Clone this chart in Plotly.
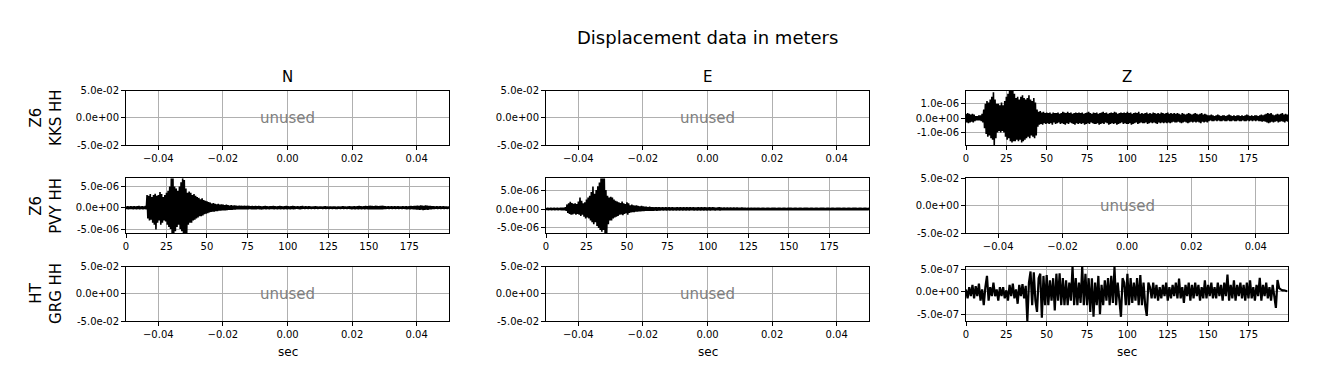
import numpy as np
import plotly.graph_objects as go

# ---------------- data ----------------
suptitle = "Displacement data in meters"
col_titles = ["N", "E", "Z"]
row_labels = ["Z6<br>KKS HH", "Z6<br>PVY HH", "HT<br>GRG HH"]
unused_label = "unused"
x_label = "sec"

# sample times (s) for each trace
times = np.arange(200.0)

# Z6 KKS HH, Z component: upper / lower envelope (x1e-6 m) per second
kks_z_up = [0.30,0.35,0.30,0.25,0.30,0.25,0.15,0.15,0.20,0.20,
            0.30,0.60,1.00,1.20,1.10,1.30,1.50,1.80,1.30,1.00,
            1.00,0.90,1.10,0.90,1.20,1.50,1.70,1.93,1.93,1.93,
            1.70,1.40,1.50,1.30,1.50,1.60,1.40,1.30,1.40,1.60,
            1.30,1.20,1.40,1.10,0.60,0.45,0.50,0.40,0.45,0.35,
            0.40,0.35,0.40,0.30,0.40,0.35,0.35,0.40,0.30,0.35,
            0.45,0.40,0.35,0.45,0.35,0.40,0.30,0.35,0.40,0.35,
            0.40,0.35,0.40,0.30,0.35,0.40,0.45,0.35,0.30,0.40,
            0.35,0.40,0.30,0.35,0.40,0.45,0.35,0.40,0.30,0.35,
            0.40,0.35,0.45,0.40,0.30,0.35,0.40,0.35,0.40,0.35,
            0.45,0.35,0.40,0.30,0.35,0.40,0.35,0.45,0.30,0.35,
            0.30,0.35,0.40,0.30,0.35,0.30,0.40,0.35,0.30,0.35,
            0.30,0.40,0.35,0.30,0.35,0.40,0.30,0.35,0.30,0.35,
            0.30,0.35,0.30,0.25,0.35,0.30,0.25,0.30,0.35,0.30,
            0.25,0.30,0.35,0.30,0.25,0.30,0.35,0.25,0.30,0.25,
            0.20,0.20,0.25,0.20,0.15,0.20,0.25,0.20,0.15,0.20,
            0.20,0.15,0.20,0.25,0.20,0.15,0.20,0.15,0.20,0.20,
            0.15,0.20,0.15,0.20,0.25,0.20,0.15,0.20,0.15,0.20,
            0.20,0.15,0.20,0.25,0.20,0.25,0.30,0.35,0.30,0.35,
            0.25,0.20,0.25,0.30,0.25,0.30,0.35,0.25,0.30,0.25]
kks_z_lo = [-0.30,-0.35,-0.30,-0.25,-0.30,-0.20,-0.15,-0.15,-0.15,-0.20,
            -0.30,-0.70,-1.10,-1.30,-1.20,-1.40,-1.50,-1.89,-1.40,-1.00,
            -0.90,-1.00,-0.90,-1.00,-1.30,-1.50,-1.40,-1.60,-1.70,-1.60,
            -1.60,-1.50,-1.60,-1.50,-1.70,-1.60,-1.50,-1.40,-1.30,-1.40,
            -1.20,-1.30,-1.40,-1.20,-0.60,-0.45,-0.40,-0.45,-0.35,-0.40,
            -0.35,-0.40,-0.35,-0.45,-0.30,-0.40,-0.35,-0.30,-0.40,-0.35,
            -0.40,-0.45,-0.35,-0.40,-0.30,-0.35,-0.40,-0.45,-0.35,-0.40,
            -0.35,-0.40,-0.35,-0.45,-0.40,-0.35,-0.40,-0.30,-0.35,-0.40,
            -0.40,-0.35,-0.45,-0.40,-0.35,-0.40,-0.30,-0.35,-0.45,-0.40,
            -0.35,-0.40,-0.35,-0.45,-0.40,-0.35,-0.30,-0.40,-0.35,-0.40,
            -0.40,-0.35,-0.45,-0.40,-0.35,-0.30,-0.40,-0.35,-0.30,-0.35,
            -0.35,-0.30,-0.40,-0.35,-0.30,-0.35,-0.30,-0.35,-0.40,-0.30,
            -0.35,-0.30,-0.35,-0.30,-0.35,-0.30,-0.35,-0.30,-0.25,-0.30,
            -0.30,-0.25,-0.30,-0.35,-0.30,-0.25,-0.30,-0.35,-0.30,-0.25,
            -0.30,-0.25,-0.30,-0.25,-0.30,-0.35,-0.25,-0.30,-0.25,-0.30,
            -0.20,-0.15,-0.20,-0.20,-0.15,-0.20,-0.15,-0.20,-0.20,-0.15,
            -0.20,-0.20,-0.15,-0.20,-0.20,-0.15,-0.20,-0.20,-0.15,-0.20,
            -0.20,-0.15,-0.20,-0.20,-0.15,-0.20,-0.15,-0.20,-0.15,-0.20,
            -0.15,-0.20,-0.20,-0.25,-0.20,-0.25,-0.30,-0.35,-0.30,-0.25,
            -0.30,-0.25,-0.20,-0.30,-0.25,-0.20,-0.25,-0.30,-0.20,-0.25]

# Z6 PVY HH, N component (x1e-6 m)
pvy_n_up = [0.30,0.35,0.30,0.35,0.30,0.35,0.30,0.35,0.40,0.30,
            0.35,0.30,0.40,3.00,2.80,3.20,2.50,3.00,3.30,2.80,
            3.00,3.70,3.20,2.50,3.00,3.50,4.00,5.00,6.90,6.90,
            5.00,4.50,4.00,5.00,6.00,6.90,6.50,4.50,3.50,3.80,
            3.50,3.00,3.20,2.80,2.50,2.30,2.00,2.20,1.80,1.60,
            1.50,1.30,1.20,1.00,1.10,0.90,0.80,0.90,0.70,0.80,
            0.70,0.60,0.70,0.60,0.50,0.60,0.50,0.55,0.50,0.45,
            0.50,0.45,0.40,0.45,0.40,0.45,0.40,0.35,0.40,0.35,
            0.40,0.35,0.40,0.35,0.30,0.35,0.40,0.35,0.30,0.35,
            0.35,0.40,0.35,0.30,0.35,0.40,0.35,0.30,0.35,0.40,
            0.35,0.30,0.35,0.40,0.35,0.30,0.35,0.30,0.35,0.40,
            0.30,0.35,0.30,0.35,0.30,0.25,0.30,0.35,0.30,0.25,
            0.30,0.25,0.30,0.35,0.30,0.25,0.30,0.25,0.30,0.30,
            0.25,0.30,0.25,0.30,0.35,0.30,0.25,0.30,0.35,0.30,
            0.30,0.35,0.30,0.35,0.40,0.35,0.30,0.35,0.40,0.35,
            0.40,0.45,0.40,0.35,0.45,0.40,0.35,0.40,0.45,0.40,
            0.35,0.30,0.35,0.30,0.35,0.30,0.35,0.30,0.35,0.30,
            0.30,0.35,0.30,0.35,0.30,0.35,0.40,0.35,0.40,0.45,
            0.50,0.45,0.55,0.50,0.45,0.55,0.50,0.45,0.40,0.35,
            0.35,0.30,0.35,0.30,0.35,0.30,0.35,0.30,0.30,0.25]
pvy_n_lo = [-0.30,-0.35,-0.30,-0.30,-0.35,-0.30,-0.35,-0.30,-0.35,-0.30,
            -0.35,-0.30,-0.40,-2.50,-3.00,-2.80,-3.50,-4.00,-5.10,-3.50,
            -3.00,-4.00,-3.50,-3.00,-3.20,-4.00,-4.50,-5.00,-6.00,-6.00,
            -5.50,-4.50,-4.00,-5.00,-5.50,-6.00,-6.00,-6.00,-4.00,-3.50,
            -3.50,-3.00,-2.80,-2.50,-2.30,-2.00,-2.00,-1.80,-1.50,-1.40,
            -1.30,-1.10,-1.00,-0.90,-0.90,-0.80,-0.80,-0.70,-0.70,-0.60,
            -0.60,-0.60,-0.55,-0.50,-0.50,-0.50,-0.45,-0.45,-0.40,-0.40,
            -0.40,-0.35,-0.40,-0.35,-0.40,-0.35,-0.30,-0.35,-0.40,-0.35,
            -0.35,-0.30,-0.35,-0.40,-0.35,-0.30,-0.35,-0.30,-0.35,-0.30,
            -0.30,-0.35,-0.30,-0.35,-0.30,-0.35,-0.30,-0.35,-0.30,-0.35,
            -0.30,-0.35,-0.30,-0.35,-0.30,-0.25,-0.30,-0.35,-0.30,-0.25,
            -0.30,-0.25,-0.30,-0.25,-0.30,-0.25,-0.30,-0.25,-0.30,-0.25,
            -0.25,-0.30,-0.25,-0.30,-0.25,-0.30,-0.25,-0.30,-0.25,-0.30,
            -0.30,-0.25,-0.30,-0.25,-0.30,-0.25,-0.30,-0.25,-0.30,-0.35,
            -0.30,-0.35,-0.30,-0.35,-0.30,-0.35,-0.30,-0.35,-0.30,-0.35,
            -0.35,-0.40,-0.35,-0.40,-0.35,-0.40,-0.35,-0.40,-0.35,-0.30,
            -0.30,-0.25,-0.30,-0.25,-0.30,-0.25,-0.30,-0.25,-0.30,-0.25,
            -0.30,-0.25,-0.30,-0.35,-0.30,-0.35,-0.30,-0.35,-0.40,-0.45,
            -0.45,-0.50,-0.45,-0.55,-0.50,-0.45,-0.50,-0.40,-0.35,-0.30,
            -0.30,-0.25,-0.30,-0.25,-0.30,-0.25,-0.30,-0.25,-0.30,-0.25]

# Z6 PVY HH, E component (x1e-6 m)
pvy_e_up = [0.25,0.30,0.25,0.30,0.25,0.30,0.25,0.30,0.25,0.30,
            0.30,0.35,0.50,1.20,1.50,1.90,1.60,1.40,1.50,1.30,
            2.00,3.00,2.20,1.50,1.80,2.50,3.00,3.50,4.50,5.90,
            4.00,5.00,6.00,7.00,8.10,8.10,8.10,5.00,3.50,3.00,
            3.20,3.00,2.50,2.20,2.00,1.80,1.60,2.00,1.50,1.30,
            1.80,1.50,1.00,1.20,1.00,0.90,1.00,0.80,0.70,0.80,
            0.70,0.60,0.60,0.50,0.60,0.50,0.50,0.45,0.50,0.45,
            0.45,0.40,0.45,0.40,0.45,0.40,0.45,0.40,0.45,0.40,
            0.40,0.45,0.40,0.45,0.40,0.50,0.40,0.45,0.40,0.45,
            0.40,0.45,0.40,0.40,0.45,0.40,0.45,0.40,0.45,0.40,
            0.40,0.45,0.40,0.45,0.40,0.35,0.40,0.45,0.40,0.35,
            0.40,0.35,0.40,0.35,0.40,0.35,0.40,0.35,0.40,0.35,
            0.35,0.40,0.35,0.35,0.30,0.35,0.30,0.35,0.30,0.35,
            0.30,0.35,0.30,0.30,0.35,0.30,0.30,0.35,0.30,0.30,
            0.30,0.35,0.30,0.30,0.35,0.30,0.30,0.35,0.30,0.30,
            0.30,0.35,0.30,0.30,0.35,0.30,0.30,0.35,0.30,0.30,
            0.30,0.35,0.30,0.30,0.35,0.30,0.30,0.35,0.30,0.30,
            0.30,0.35,0.30,0.30,0.35,0.30,0.30,0.35,0.30,0.30,
            0.30,0.35,0.30,0.30,0.35,0.30,0.30,0.35,0.30,0.30,
            0.30,0.35,0.30,0.30,0.35,0.30,0.30,0.35,0.30,0.30]
pvy_e_lo = [-0.25,-0.30,-0.25,-0.30,-0.25,-0.30,-0.25,-0.30,-0.25,-0.30,
            -0.30,-0.35,-0.50,-1.00,-1.30,-1.50,-1.40,-1.20,-1.50,-1.30,
            -1.50,-1.80,-1.50,-2.00,-2.50,-2.20,-2.50,-3.00,-3.50,-4.00,
            -3.50,-4.50,-5.00,-5.50,-6.00,-5.50,-6.40,-6.40,-4.00,-3.00,
            -3.00,-2.50,-2.20,-2.00,-1.80,-1.50,-1.40,-1.60,-1.30,-1.10,
            -1.50,-1.00,-0.90,-0.80,-0.80,-0.70,-0.70,-0.60,-0.60,-0.55,
            -0.55,-0.50,-0.50,-0.45,-0.50,-0.45,-0.45,-0.40,-0.45,-0.40,
            -0.40,-0.35,-0.40,-0.35,-0.40,-0.35,-0.40,-0.35,-0.40,-0.35,
            -0.40,-0.35,-0.40,-0.35,-0.40,-0.35,-0.40,-0.35,-0.40,-0.35,
            -0.35,-0.40,-0.35,-0.40,-0.35,-0.40,-0.35,-0.40,-0.35,-0.40,
            -0.35,-0.40,-0.35,-0.35,-0.40,-0.35,-0.35,-0.40,-0.35,-0.35,
            -0.35,-0.30,-0.35,-0.35,-0.30,-0.35,-0.35,-0.30,-0.35,-0.35,
            -0.30,-0.35,-0.30,-0.35,-0.30,-0.35,-0.30,-0.35,-0.30,-0.35,
            -0.30,-0.30,-0.35,-0.30,-0.30,-0.35,-0.30,-0.30,-0.35,-0.30,
            -0.30,-0.30,-0.35,-0.30,-0.30,-0.35,-0.30,-0.30,-0.35,-0.30,
            -0.30,-0.30,-0.35,-0.30,-0.30,-0.35,-0.30,-0.30,-0.35,-0.30,
            -0.30,-0.30,-0.35,-0.30,-0.30,-0.35,-0.30,-0.30,-0.35,-0.30,
            -0.30,-0.30,-0.35,-0.30,-0.30,-0.35,-0.30,-0.30,-0.35,-0.30,
            -0.30,-0.30,-0.35,-0.30,-0.30,-0.35,-0.30,-0.30,-0.35,-0.30,
            -0.30,-0.30,-0.35,-0.30,-0.30,-0.35,-0.30,-0.30,-0.35,-0.30]

# HT GRG HH, Z component: one sample per second (x1e-7 m)
grg_z = [0.5,-1.5,1.0,-1.0,1.5,-1.5,1.2,-1.0,1.8,-2.0,
         0.5,-3.0,1.0,3.5,-2.0,1.0,-1.0,2.0,-1.0,0.5,
         -2.0,1.0,-1.0,1.0,-1.5,0.3,-2.0,1.5,-1.0,1.8,
         -1.5,0.5,-2.7,1.5,-1.0,1.7,-1.5,1.3,-6.6,2.0,
         4.5,-3.0,4.3,-2.0,-4.5,3.0,4.0,-5.8,3.5,-3.0,
         3.7,-3.0,2.5,-2.0,3.0,-4.2,4.0,-2.0,4.1,-3.0,
         3.0,-3.0,2.5,-3.0,2.0,-2.0,5.6,-3.0,3.0,-3.0,
         2.0,-2.5,5.6,-3.0,4.0,-3.0,3.0,-4.5,3.0,-5.6,
         2.0,-3.0,3.5,-5.0,1.5,-3.0,2.5,-2.0,3.0,-3.0,
         3.5,-2.5,5.5,-3.0,2.0,-2.5,-5.6,3.0,2.0,-3.0,
         4.0,-3.0,3.0,-2.5,2.0,-2.0,3.0,-3.0,3.7,-3.0,
         2.0,-3.0,-5.4,2.0,1.0,-1.5,2.0,-1.5,1.5,-2.0,
         1.0,-1.5,1.5,-1.0,2.0,-2.0,1.0,-1.5,1.5,-1.0,
         2.0,-1.5,2.9,-1.5,1.0,-2.5,1.5,-1.0,2.0,-2.0,
         1.5,-1.5,2.0,-1.0,1.5,-2.0,1.0,-1.5,2.5,-1.5,
         1.5,-1.0,2.0,-1.5,1.0,-1.5,2.0,-1.0,1.5,-2.0,
         2.0,-1.0,3.8,-2.0,1.5,-1.5,2.5,-2.0,1.5,-1.0,
         2.0,-1.5,1.5,-2.0,2.0,-1.5,2.5,-1.5,1.0,-2.0,
         1.5,-1.0,3.1,-2.0,1.5,-1.0,2.0,-1.5,1.0,-2.0,
         1.5,-1.0,-3.6,2.6,0.8,0.5,0.3,0.3,0.2,0.1]

# y-axis ticks of the data panels
kks_z_ticks = [-1e-6, 0.0, 1e-6]
kks_z_ticktext = ["-1.0e-06", "0.0e+00", "1.0e-06"]
pvy_ticks = [-5e-6, 0.0, 5e-6]
pvy_ticktext = ["-5.0e-06", "0.0e+00", "5.0e-06"]
grg_ticks = [-5e-7, 0.0, 5e-7]
grg_ticktext = ["-5.0e-07", "0.0e+00", "5.0e-07"]
sec_ticks = [0, 25, 50, 75, 100, 125, 150, 175]
unused_xticks = [-0.04, -0.02, 0.0, 0.02, 0.04]
unused_xticktext = ["\u22120.04", "\u22120.02", "0.00", "0.02", "0.04"]
unused_yticks = [-0.05, 0.0, 0.05]
unused_yticktext = ["-5.0e-02", "0.0e+00", "5.0e-02"]

# ---------------- layout geometry ----------------
W, H = 1318, 389
col_px = [(126, 449), (546, 869), (966, 1288)]
row_px = [(90.5, 145.3), (178.3, 233.3), (266.5, 321.3)]
FONT = "DejaVu Sans"


def xdom(c):
    return [col_px[c][0] / W, col_px[c][1] / W]


def ydom(r):
    return [1 - row_px[r][1] / H, 1 - row_px[r][0] / H]


def envelope_xy(up, lo, scale):
    x = np.column_stack([times, times + 0.5]).ravel()
    y = np.column_stack([np.array(up), np.array(lo)]).ravel() * scale
    return x, y


# panel contents: (row, col) -> spec
panels = {
    (0, 2): dict(kind="env", up=kks_z_up, lo=kks_z_lo, scale=1e-6,
                 yr=[-1.89e-6, 1.93e-6], yt=kks_z_ticks, ytt=kks_z_ticktext),
    (1, 0): dict(kind="env", up=pvy_n_up, lo=pvy_n_lo, scale=1e-6,
                 yr=[-6.0e-6, 6.9e-6], yt=pvy_ticks, ytt=pvy_ticktext),
    (1, 1): dict(kind="env", up=pvy_e_up, lo=pvy_e_lo, scale=1e-6,
                 yr=[-6.4e-6, 8.1e-6], yt=pvy_ticks, ytt=pvy_ticktext),
    (2, 2): dict(kind="line", y=grg_z, scale=1e-7,
                 yr=[-6.6e-7, 5.6e-7], yt=grg_ticks, ytt=grg_ticktext),
}

fig = go.Figure()
layout = dict(
    template="none",
    width=W, height=H,
    margin=dict(l=0, r=0, t=0, b=0, pad=0, autoexpand=False),
    paper_bgcolor="white", plot_bgcolor="white",
    showlegend=False,
    font=dict(family=FONT, size=10, color="black"),
)
annotations = []

axis_common = dict(
    showline=True, linecolor="black", linewidth=1, mirror=True,
    ticks="outside", ticklen=4, tickwidth=1, tickcolor="black",
    showgrid=True, gridcolor="#b0b0b0", gridwidth=1,
    zeroline=False, tickfont=dict(family=FONT, size=10, color="black"),
    fixedrange=True, automargin=False,
)

for r in range(3):
    for c in range(3):
        k = r * 3 + c + 1
        xa = f"xaxis{k}" if k > 1 else "xaxis"
        ya = f"yaxis{k}" if k > 1 else "yaxis"
        xref = f"x{k}" if k > 1 else "x"
        yref = f"y{k}" if k > 1 else "y"
        spec = panels.get((r, c))
        if spec is None:
            layout[xa] = dict(axis_common, domain=xdom(c), anchor=yref,
                              range=[-0.05, 0.05], tickvals=unused_xticks,
                              ticktext=unused_xticktext)
            layout[ya] = dict(axis_common, domain=ydom(r), anchor=xref,
                              range=[-0.05, 0.05], tickvals=unused_yticks,
                              ticktext=unused_yticktext)
            fig.add_trace(go.Scatter(x=[0], y=[0], mode="markers",
                                     marker=dict(opacity=0), hoverinfo="skip",
                                     xaxis=xref, yaxis=yref))
            annotations.append(dict(
                x=0.0, y=0.0, xref=xref, yref=yref, text=unused_label,
                showarrow=False, font=dict(family=FONT, size=15, color="#808080"),
                xanchor="center", yanchor="middle"))
        else:
            layout[xa] = dict(axis_common, domain=xdom(c), anchor=yref,
                              range=[0, 199.5], tickvals=sec_ticks)
            layout[ya] = dict(axis_common, domain=ydom(r), anchor=xref,
                              range=spec["yr"], tickvals=spec["yt"],
                              ticktext=spec["ytt"])
            if spec["kind"] == "env":
                x, y = envelope_xy(spec["up"], spec["lo"], spec["scale"])
                lw = 1.6
            else:
                x = times
                y = np.array(spec["y"]) * spec["scale"]
                lw = 2.2
            fig.add_trace(go.Scatter(x=x, y=y, mode="lines",
                                     line=dict(color="black", width=lw),
                                     cliponaxis=True, hoverinfo="skip",
                                     xaxis=xref, yaxis=yref))

# x-axis labels under the bottom row
for c in range(3):
    cx = (col_px[c][0] + col_px[c][1]) / 2
    annotations.append(dict(x=cx / W, y=1 - 352 / H, xref="paper", yref="paper",
                            text=x_label, showarrow=False,
                            font=dict(family=FONT, size=12, color="black"),
                            xanchor="center", yanchor="middle"))
# suptitle
annotations.append(dict(x=707 / W, y=1 - 38 / H, xref="paper", yref="paper",
                        text=suptitle, showarrow=False,
                        font=dict(family=FONT, size=18, color="black"),
                        xanchor="center", yanchor="middle"))
# column titles
for c, t in enumerate(col_titles):
    cx = (col_px[c][0] + col_px[c][1]) / 2
    annotations.append(dict(x=cx / W, y=1 - 77 / H, xref="paper", yref="paper",
                            text=t, showarrow=False,
                            font=dict(family=FONT, size=15, color="black"),
                            xanchor="center", yanchor="middle"))
# row labels
for r, t in enumerate(row_labels):
    cy = (row_px[r][0] + row_px[r][1]) / 2
    annotations.append(dict(x=46 / W, y=1 - cy / H, xref="paper", yref="paper",
                            text=t, showarrow=False, textangle=-90,
                            font=dict(family=FONT, size=15, color="black"),
                            xanchor="center", yanchor="middle"))

layout["annotations"] = annotations
fig.update_layout(**layout)
fig.write_html("out.html")
